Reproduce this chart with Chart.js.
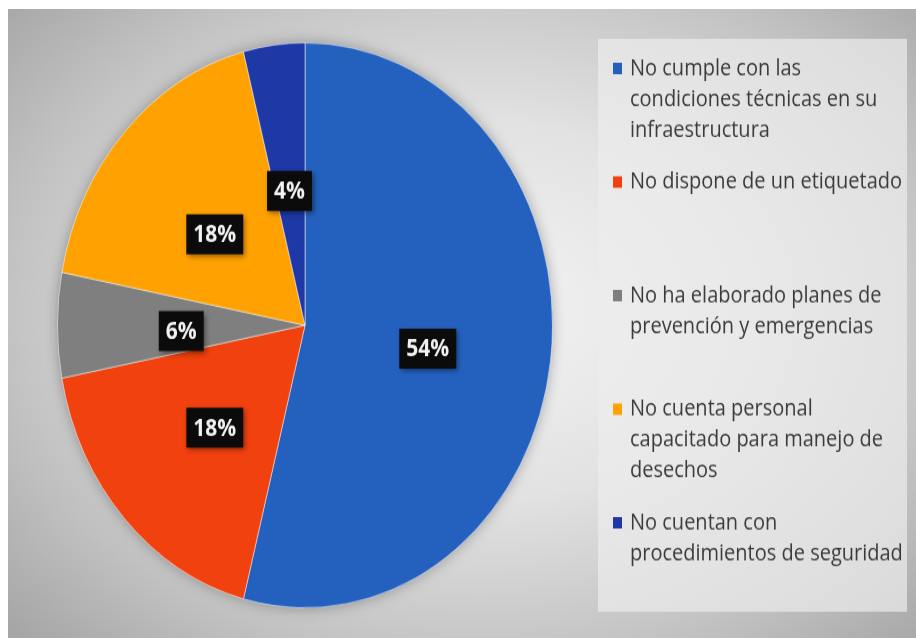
<!DOCTYPE html>
<html lang="es">
<head>
  <meta charset="UTF-8" />
  <title>Gráfico circular</title>
  <script src="https://cdn.jsdelivr.net/npm/chart.js"></script>
  <style>
    html, body {
      margin: 0;
      padding: 0;
      background: #ffffff;
      width: 916px;
      height: 638px;
      overflow: hidden;
    }
    #fondo {
      position: absolute;
      left: 8px;
      top: 9px;
      width: 908px;
      height: 629px;
      background: radial-gradient(ellipse 70% 75% at 52% 48%, #f4f4f4 0%, #e2e2e2 40%, #c2c2c2 75%, #a6a6a6 100%);
    }
    /* la imagen original está estirada en vertical */
    #grafico {
      position: absolute;
      left: 0;
      top: 0;
      width: 916px !important;
      height: 638px !important;
    }
  </style>
</head>
<body>
  <div id="fondo"></div>
  <canvas id="grafico" width="916" height="559"></canvas>

  <script>
    // datos del gráfico
    const categorias = [
      ["No cumple con las", "condiciones técnicas en su", "infraestructura"],
      ["No dispone de un etiquetado"],
      ["No ha elaborado planes de", "prevención y emergencias"],
      ["No cuenta personal", "capacitado para manejo de", "desechos"],
      ["No cuentan con", "procedimientos de seguridad"]
    ];
    const porcentajes = [54, 18, 6, 18, 4];
    const colores = ["#2461bf", "#f0410e", "#7f7f7f", "#ffa201", "#1e38a6"];

    // sombra suave debajo del pastel
    const sombraPastel = {
      id: 'sombraPastel',
      beforeDatasetsDraw(chart) {
        const arc = chart.getDatasetMeta(0).data[0];
        if (!arc) return;
        const ctx = chart.ctx;
        ctx.save();
        ctx.shadowColor = 'rgba(0,0,0,0.35)';
        ctx.shadowBlur = 14;
        ctx.fillStyle = '#888';
        ctx.beginPath();
        ctx.arc(arc.x, arc.y, arc.outerRadius - 1, 0, Math.PI * 2);
        ctx.fill();
        ctx.restore();
      }
    };

    // etiquetas negras con el porcentaje
    const etiquetas = {
      id: 'etiquetas',
      afterDatasetsDraw(chart) {
        const ctx = chart.ctx;
        const meta = chart.getDatasetMeta(0);
        ctx.save();
        ctx.font = 'bold 21px "Open Sans", sans-serif';
        ctx.textAlign = 'center';
        ctx.textBaseline = 'middle';
        meta.data.forEach((arc, i) => {
          const p = arc.tooltipPosition();
          const y = p.y + 5;
          const txt = porcentajes[i] + '%';
          const w = ctx.measureText(txt).width + 14;
          const h = 35;
          ctx.shadowColor = 'rgba(0,0,0,0.45)';
          ctx.shadowBlur = 5;
          ctx.shadowOffsetX = 2;
          ctx.shadowOffsetY = 2;
          ctx.fillStyle = '#0b0b0b';
          ctx.fillRect(p.x - w / 2, y - h / 2, w, h);
          ctx.shadowColor = 'transparent';
          ctx.fillStyle = '#f2f2f2';
          ctx.fillText(txt, p.x, y + 1);
        });
        ctx.restore();
      }
    };

    // leyenda a la derecha, con varias líneas por elemento
    const leyenda = {
      id: 'leyenda',
      afterDraw(chart) {
        const ctx = chart.ctx;
        ctx.save();
        ctx.fillStyle = 'rgba(236,236,236,0.7)';
        ctx.fillRect(598, 34, 309, 502);
        ctx.font = '20px "Open Sans", sans-serif';
        ctx.textAlign = 'left';
        ctx.textBaseline = 'middle';
        categorias.forEach((lineas, i) => {
          const y0 = 60 + i * 99.5;
          ctx.fillStyle = colores[i];
          ctx.fillRect(613, y0 - 5, 9, 10);
          ctx.fillStyle = '#3b3b3b';
          lineas.forEach((linea, j) => {
            ctx.fillText(linea, 630, y0 + j * 27);
          });
        });
        ctx.restore();
      }
    };

    new Chart(document.getElementById('grafico').getContext('2d'), {
      type: 'pie',
      data: {
        labels: categorias,
        datasets: [{
          data: porcentajes,
          backgroundColor: colores,
          borderColor: 'rgba(255,255,255,0.5)',
          borderWidth: 1
        }]
      },
      options: {
        responsive: false,
        animation: false,
        layout: { padding: { left: 57, right: 363, top: 37, bottom: 26 } },
        plugins: {
          legend: { display: false },
          tooltip: { enabled: false }
        }
      },
      plugins: [sombraPastel, etiquetas, leyenda]
    });
  </script>
</body>
</html>
